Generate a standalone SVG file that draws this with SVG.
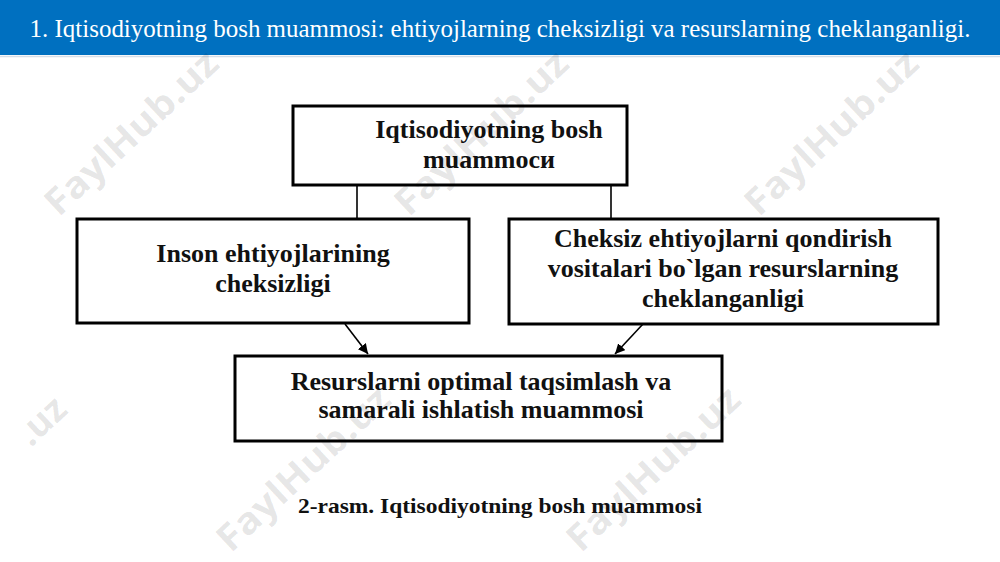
<svg xmlns="http://www.w3.org/2000/svg" width="1000" height="562" viewBox="0 0 1000 562">
<defs>
<marker id="arr" viewBox="0 0 10 10" refX="10" refY="5" markerWidth="10" markerHeight="10" markerUnits="userSpaceOnUse" orient="auto">
<path d="M0,0 L10,5 L0,10 z" fill="#000"/>
</marker>
<style>
.box{fill:#fff;stroke:#000;stroke-width:3}
.t{font-family:"Liberation Serif","Times New Roman",serif;font-weight:bold;font-size:26px;fill:#111;text-anchor:middle}
.cap{font-family:"Liberation Serif","Times New Roman",serif;font-weight:bold;font-size:21px;fill:#111;text-anchor:middle}
.ln{stroke:#000;stroke-width:1.6;fill:none}
.wm{font-family:"Open Sans","DejaVu Sans",sans-serif;font-weight:bold;font-size:37px;fill:#000;fill-opacity:0.1;text-anchor:middle}
</style>
</defs>
<rect x="0" y="0" width="1000" height="562" fill="#fff"/>
<g id="banner">
<rect x="0" y="0" width="1000" height="55" fill="#0070C0"/>
<line x1="0" y1="56.5" x2="1000" y2="56.5" stroke="#d5dde8" stroke-width="1.5"/>
<text transform="translate(500,37) scale(0.96,1)" x="0" y="0" font-family="Liberation Serif,'Times New Roman',serif" font-size="26" fill="#fff" text-anchor="middle">1. Iqtisodiyotning bosh muammosi: ehtiyojlarning cheksizligi va resurslarning cheklanganligi.</text>
</g>
<g id="connectors">
<line class="ln" x1="357" y1="185" x2="357" y2="220"/>
<line class="ln" x1="611" y1="185" x2="611" y2="220"/>
<line class="ln" x1="345" y1="324" x2="368" y2="354" marker-end="url(#arr)"/>
<line class="ln" x1="643" y1="324" x2="615" y2="354" marker-end="url(#arr)"/>
</g>
<g id="top">
<rect class="box" x="293" y="106" width="334" height="79"/>
<text class="t" x="489" y="138">Iqtisodiyotning bosh</text>
<text class="t" x="489" y="168">muammocи</text>
</g>
<g id="left">
<rect class="box" x="77" y="219" width="392" height="104"/>
<text class="t" x="273" y="262">Inson ehtiyojlarining</text>
<text class="t" x="273" y="292">cheksizligi</text>
</g>
<g id="right">
<rect class="box" x="509" y="219" width="429" height="105"/>
<text class="t" x="723" y="247">Cheksiz ehtiyojlarni qondirish</text>
<text class="t" x="723" y="277">vositalari bo`lgan resurslarning</text>
<text class="t" x="723" y="307">cheklanganligi</text>
</g>
<g id="bottom">
<rect class="box" x="235" y="356" width="487" height="85"/>
<text class="t" x="481" y="390">Resurslarni optimal taqsimlash va</text>
<text class="t" x="481" y="418">samarali ishlatish muammosi</text>
</g>
<g id="caption">
<text class="cap" x="500" y="513" textLength="404" lengthAdjust="spacingAndGlyphs">2-rasm. Iqtisodiyotning bosh muammosi</text>
</g>
<g id="watermarks">
<text class="wm" transform="translate(140,142) rotate(-43)" textLength="222" lengthAdjust="spacingAndGlyphs">FaylHub.uz</text>
<text class="wm" transform="translate(490,142) rotate(-43)" textLength="222" lengthAdjust="spacingAndGlyphs">FaylHub.uz</text>
<text class="wm" transform="translate(840,142) rotate(-43)" textLength="222" lengthAdjust="spacingAndGlyphs">FaylHub.uz</text>
<text class="wm" transform="translate(50,430) rotate(-43)">.uz</text>
<text class="wm" transform="translate(312,478) rotate(-43)" textLength="222" lengthAdjust="spacingAndGlyphs">FaylHub.uz</text>
<text class="wm" transform="translate(662,478) rotate(-43)" textLength="222" lengthAdjust="spacingAndGlyphs">FaylHub.uz</text>
</g>
</svg>
